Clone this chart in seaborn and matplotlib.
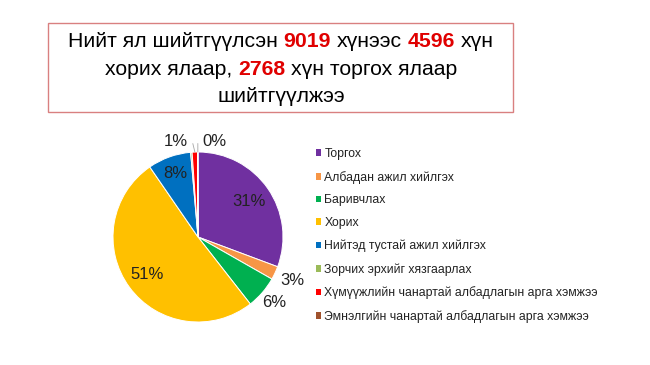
import numpy as np
import matplotlib
matplotlib.use("Agg")
import matplotlib.pyplot as plt
import seaborn as sns
from matplotlib.patches import Rectangle

# ── Data ──────────────────────────────────────────────────────────────────────
CATEGORIES = [
    "Торгох",
    "Албадан ажил хийлгэх",
    "Баривчлах",
    "Хорих",
    "Нийтэд тустай ажил хийлгэх",
    "Зорчих эрхийг хязгаарлах",
    "Хүмүүжлийн чанартай албадлагын арга хэмжээ",
    "Эмнэлгийн чанартай албадлагын арга хэмжээ",
]
VALUES = [2768, 230, 560, 4596, 740, 25, 95, 5]
SHOW_LABEL = [True, True, True, True, True, False, True, True]
COLORS = ["#7030A0", "#F79646", "#00B050", "#FFC000",
          "#0070C0", "#9BBB59", "#FF0000", "#A0522D"]

TITLE_LINES = [
    [("Нийт ял шийтгүүлсэн", "n"), ("9019", "b"), ("хүнээс", "n"), ("4596", "b"), ("хүн", "n")],
    [("хорих ялаар,", "n"), ("2768", "b"), ("хүн торгох ялаар", "n")],
    [("шийтгүүлжээ", "n")],
]

# label distance from centre (in radii) and horizontal nudge, per slice
LABEL_DIST = [0.73, 1.22, 1.18, 0.75, 0.80, 1.15, 1.12, 1.12]
LABEL_DX = [0, 0, 0, 0, 0, 0, -0.22, 0.20]

# ── Style ─────────────────────────────────────────────────────────────────────
sns.set_theme(style="white")
plt.rcParams["font.family"] = ["Liberation Sans", "DejaVu Sans"]

W, H = 650, 365
fig = plt.figure(figsize=(W / 100, H / 100), dpi=100)
fig.patch.set_facecolor("white")

# ── Title box with coloured numbers ───────────────────────────────────────────
fig.patches.append(Rectangle((48 / W, 1 - 112 / H), (513 - 48) / W, (112 - 23) / H,
                             transform=fig.transFigure, fill=False,
                             edgecolor="#D98080", linewidth=1.0))

TITLE_SIZE = 15.3
r = fig.canvas.get_renderer()


def text_width(s, weight):
    t = fig.text(0, 0, s, fontsize=TITLE_SIZE, fontweight=weight)
    w = t.get_window_extent(r).width
    t.remove()
    return w


space_w = text_width("x x", "normal") - text_width("xx", "normal")
baselines = [47, 75, 102]
cx = 281
for line, yb in zip(TITLE_LINES, baselines):
    widths = [text_width(s, "bold" if k == "b" else "normal") for s, k in line]
    total = sum(widths) + space_w * (len(line) - 1)
    x = cx - total / 2
    for (s, k), w in zip(line, widths):
        fig.text(x / W, 1 - yb / H, s, fontsize=TITLE_SIZE,
                 fontweight="bold" if k == "b" else "normal",
                 color="#E00000" if k == "b" else "black",
                 ha="left", va="baseline")
        x += w + space_w

# ── Pie ───────────────────────────────────────────────────────────────────────
pcx, pcy, rad = 198, 237, 85
ax = fig.add_axes([(pcx - rad) / W, 1 - (pcy + rad) / H, 2 * rad / W, 2 * rad / H])
wedges, _ = ax.pie(VALUES, colors=COLORS, startangle=90, counterclock=False,
                   wedgeprops=dict(edgecolor="white", linewidth=0.7))
ax.set_xlim(-1, 1)
ax.set_ylim(-1, 1)
ax.axis("off")

total = sum(VALUES)
for wdg, v, show, d, dx in zip(wedges, VALUES, SHOW_LABEL, LABEL_DIST, LABEL_DX):
    if not show:
        continue
    ang = np.deg2rad((wdg.theta1 + wdg.theta2) / 2)
    x, y = d * np.cos(ang) + dx, d * np.sin(ang)
    ax.text(x, y, f"{100 * v / total:.0f}%", ha="center", va="center",
            fontsize=12, color="#222222", clip_on=False)
    if dx != 0:
        ex, ey = np.cos(ang), np.sin(ang)
        lx = x + (0.2 if dx < 0 else -0.2)
        ax.plot([ex, lx], [ey, y - 0.02], color="#A6A6A6", lw=0.6, clip_on=False)

# ── Legend ────────────────────────────────────────────────────────────────────
leg = fig.legend(wedges, CATEGORIES, loc="upper left",
                 bbox_to_anchor=(311 / W, 1 - 143 / H), frameon=False,
                 fontsize=8.8, handlelength=0.45, handleheight=0.45,
                 handletextpad=0.25, labelspacing=0.88, borderaxespad=0)
for t in leg.get_texts():
    t.set_color("#222222")
for h in leg.legend_handles:
    h.set_edgecolor("none")

fig.savefig("out.png", dpi=100)
